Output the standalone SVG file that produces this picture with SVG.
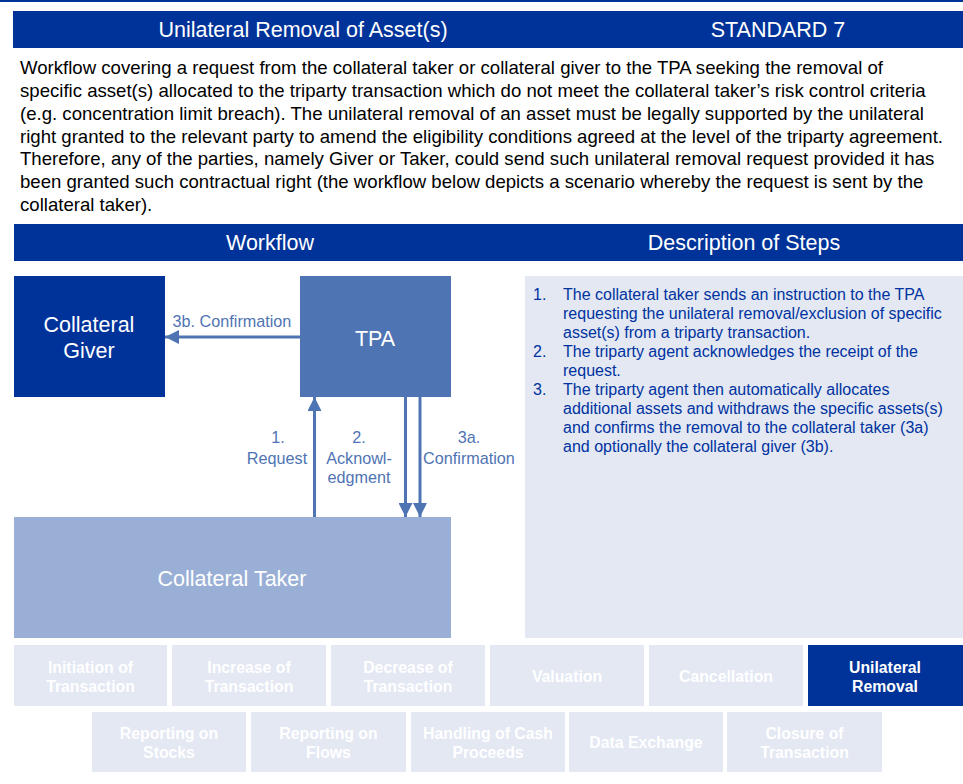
<svg xmlns="http://www.w3.org/2000/svg" width="963" height="784" viewBox="0 0 963 784">
<style>
.hdr{fill:#003399}
.ht{font-family:"Liberation Sans",Arial,sans-serif;font-size:21.5px;fill:#ffffff;text-anchor:middle}
.para{font-family:"Liberation Sans",Arial,sans-serif;font-size:18.6px;fill:#000000}
.nt{font-family:"Liberation Sans",Arial,sans-serif;font-size:21.5px;fill:#ffffff;text-anchor:middle}
.lbl{font-family:"Liberation Sans",Arial,sans-serif;font-size:16.2px;fill:#4F74B3;text-anchor:middle}
.desc{font-family:"Liberation Sans",Arial,sans-serif;font-size:16px;fill:#0033A0}
.tile{fill:#E3E8F3}
.tt{font-family:"Liberation Sans",Arial,sans-serif;font-size:15.8px;font-weight:bold;fill:#ffffff;text-anchor:middle}
.conn{stroke:#4F74B3;stroke-width:3;fill:none}
</style>
<defs>
<marker id="ah" viewBox="0 0 14 14" refX="14" refY="7" markerWidth="14" markerHeight="14" markerUnits="userSpaceOnUse" orient="auto">
<path d="M0,0 L14,7 L0,14 Z" fill="#4F74B3"/>
</marker>
</defs>
<rect x="0" y="0" width="963" height="2" fill="#003399"/>
<g id="title">
<rect class="hdr" x="13" y="11" width="950" height="37"/>
<text class="ht" x="303" y="37">Unilateral Removal of Asset(s)</text>
<text class="ht" x="778" y="37">STANDARD 7</text>
</g>
<g id="intro">
<text class="para" x="20" y="74">Workflow covering a request from the collateral taker or collateral giver to the TPA seeking the removal of</text>
<text class="para" x="20" y="97">specific asset(s) allocated to the triparty transaction which do not meet the collateral taker’s risk control criteria</text>
<text class="para" x="20" y="120">(e.g. concentration limit breach). The unilateral removal of an asset must be legally supported by the unilateral</text>
<text class="para" x="20" y="143">right granted to the relevant party to amend the eligibility conditions agreed at the level of the triparty agreement.</text>
<text class="para" x="20" y="165">Therefore, any of the parties, namely Giver or Taker, could send such unilateral removal request provided it has</text>
<text class="para" x="20" y="188">been granted such contractual right (the workflow below depicts a scenario whereby the request is sent by the</text>
<text class="para" x="20" y="211">collateral taker).</text>
</g>
<g id="section-headers">
<rect class="hdr" x="14" y="224" width="949" height="37"/>
<text class="ht" x="270" y="250">Workflow</text>
<text class="ht" x="744" y="250">Description of Steps</text>
</g>
<g id="giver">
<rect x="14" y="276" width="151" height="121" fill="#003399"/>
<text class="nt" x="89" y="332">Collateral</text>
<text class="nt" x="89" y="358">Giver</text>
</g>
<g id="tpa">
<rect x="300" y="276" width="151" height="121" fill="#4F74B3"/>
<text class="nt" x="375" y="346">TPA</text>
</g>
<g id="taker">
<rect x="14" y="517" width="437" height="121" fill="#9AAFD5"/>
<text class="nt" x="232" y="586">Collateral Taker</text>
</g>
<g id="connectors">
<line class="conn" x1="300" y1="337" x2="165" y2="337" marker-end="url(#ah)"/>
<line class="conn" x1="314.5" y1="517" x2="314.5" y2="397" marker-end="url(#ah)"/>
<line class="conn" x1="405.5" y1="397" x2="405.5" y2="517" marker-end="url(#ah)"/>
<line class="conn" x1="420" y1="397" x2="420" y2="517" marker-end="url(#ah)"/>
<text class="lbl" x="232" y="327">3b. Confirmation</text>
<text class="lbl" x="278" y="443">1.</text>
<text class="lbl" x="277" y="464">Request</text>
<text class="lbl" x="359" y="443">2.</text>
<text class="lbl" x="359" y="464">Acknowl-</text>
<text class="lbl" x="359" y="483">edgment</text>
<text class="lbl" x="469" y="443">3a.</text>
<text class="lbl" x="469" y="464">Confirmation</text>
</g>
<g id="description">
<rect x="525" y="276" width="438" height="362" fill="#E3E8F3"/>
<text class="desc" x="533" y="300">1.</text>
<text class="desc" x="563" y="300">The collateral taker sends an instruction to the TPA</text>
<text class="desc" x="563" y="319">requesting the unilateral removal/exclusion of specific</text>
<text class="desc" x="563" y="338">asset(s) from a triparty transaction.</text>
<text class="desc" x="533" y="357">2.</text>
<text class="desc" x="563" y="357">The triparty agent acknowledges the receipt of the</text>
<text class="desc" x="563" y="376">request.</text>
<text class="desc" x="533" y="395">3.</text>
<text class="desc" x="563" y="395">The triparty agent then automatically allocates</text>
<text class="desc" x="563" y="414">additional assets and withdraws the specific assets(s)</text>
<text class="desc" x="563" y="433">and confirms the removal to the collateral taker (3a)</text>
<text class="desc" x="563" y="452">and optionally the collateral giver (3b).</text>
</g>
<g id="tiles">
<g id="t-initiation"><rect class="tile" x="14" y="645" width="153" height="61"/><text class="tt" x="90.5" y="673">Initiation of</text><text class="tt" x="90.5" y="692">Transaction</text></g>
<g id="t-increase"><rect class="tile" x="172" y="645" width="154" height="61"/><text class="tt" x="249" y="673">Increase of</text><text class="tt" x="249" y="692">Transaction</text></g>
<g id="t-decrease"><rect class="tile" x="331" y="645" width="154" height="61"/><text class="tt" x="408" y="673">Decrease of</text><text class="tt" x="408" y="692">Transaction</text></g>
<g id="t-valuation"><rect class="tile" x="490" y="645" width="154" height="61"/><text class="tt" x="567" y="682">Valuation</text></g>
<g id="t-cancellation"><rect class="tile" x="649" y="645" width="154" height="61"/><text class="tt" x="726" y="682">Cancellation</text></g>
<g id="t-unilateral"><rect x="808" y="645" width="155" height="61" fill="#003399"/><text class="tt" x="885" y="673">Unilateral</text><text class="tt" x="885" y="692">Removal</text></g>
<g id="t-rep-stocks"><rect class="tile" x="92" y="712" width="154" height="60"/><text class="tt" x="169" y="739">Reporting on</text><text class="tt" x="169" y="758">Stocks</text></g>
<g id="t-rep-flows"><rect class="tile" x="251" y="712" width="155" height="60"/><text class="tt" x="328.5" y="739">Reporting on</text><text class="tt" x="328.5" y="758">Flows</text></g>
<g id="t-cash"><rect class="tile" x="411" y="712" width="154" height="60"/><text class="tt" x="488" y="739">Handling of Cash</text><text class="tt" x="488" y="758">Proceeds</text></g>
<g id="t-data"><rect class="tile" x="569" y="712" width="154" height="60"/><text class="tt" x="646" y="748">Data Exchange</text></g>
<g id="t-closure"><rect class="tile" x="727" y="712" width="155" height="60"/><text class="tt" x="804.5" y="739">Closure of</text><text class="tt" x="804.5" y="758">Transaction</text></g>
</g>
</svg>
